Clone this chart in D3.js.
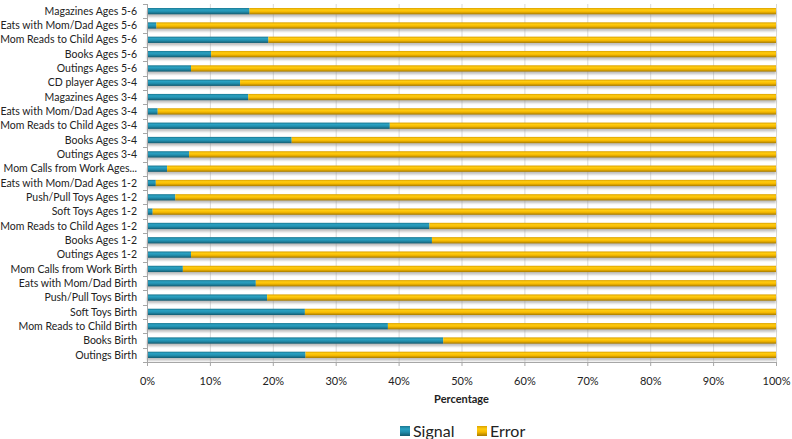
<!DOCTYPE html>
<html>
<head>
<meta charset="utf-8">
<script src="https://cdn.jsdelivr.net/npm/d3@7"></script>
<style>
  html, body { margin: 0; padding: 0; background: #fff; }
  svg text { font-family: Lato, "Noto Sans", sans-serif; fill: #222; }
</style>
</head>
<body>
<svg id="chart" width="792" height="439"></svg>
<script>
// Categories listed top to bottom
const categories = [
  "Magazines Ages 5-6",
  "Eats with Mom/Dad Ages 5-6",
  "Mom Reads to Child Ages 5-6",
  "Books Ages 5-6",
  "Outings Ages 5-6",
  "CD player Ages 3-4",
  "Magazines Ages 3-4",
  "Eats with Mom/Dad Ages 3-4",
  "Mom Reads to Child Ages 3-4",
  "Books Ages 3-4",
  "Outings Ages 3-4",
  "Mom Calls from Work Ages 1-2",
  "Eats with Mom/Dad Ages 1-2",
  "Push/Pull Toys Ages 1-2",
  "Soft Toys Ages 1-2",
  "Mom Reads to Child Ages 1-2",
  "Books Ages 1-2",
  "Outings Ages 1-2",
  "Mom Calls from Work Birth",
  "Eats with Mom/Dad Birth",
  "Push/Pull Toys Birth",
  "Soft Toys Birth",
  "Mom Reads to Child Birth",
  "Books Birth",
  "Outings Birth"
];

// Share of variance (percent)
const signal = [16.3, 1.5, 19.3, 10.2, 7.0, 14.8, 16.1, 1.7, 38.6, 23.0, 6.7, 3.2, 1.4, 4.5, 0.9,
                44.9, 45.3, 7.0, 5.7, 17.3, 19.1, 25.1, 38.3, 47.1, 25.2];
const error = signal.map(s => 100 - s);

const seriesNames = ["Signal", "Error"];
const xTicks = [0, 10, 20, 30, 40, 50, 60, 70, 80, 90, 100];
const xTitle = "Percentage";

const svg = d3.select("#chart");
const margin = { left: 147, right: 16, top: 4, bottom: 77 };
const W = 792, H = 439;

const x = d3.scaleLinear().domain([0, 100]).range([margin.left, W - margin.right]);
const y = d3.scaleBand().domain(categories).range([margin.top, H - margin.bottom]).paddingInner(0.56).paddingOuter(0.28);

const rows = categories.map((c, i) => ({ cat: c, Signal: signal[i], Error: error[i] }));
const stack = d3.stack().keys(seriesNames)(rows);

// Gradients for the bar fills
const defs = svg.append("defs");
function grad(id, stops) {
  const g = defs.append("linearGradient").attr("id", id).attr("x1", 0).attr("y1", 0).attr("x2", 0).attr("y2", 1);
  stops.forEach(([o, c]) => g.append("stop").attr("offset", o).attr("stop-color", c));
}
grad("gSignal", [[0, "#1b7891"], [0.3, "#2aa1c2"], [0.6, "#228ead"], [1, "#135a6f"]]);
grad("gError", [[0, "#dba200"], [0.3, "#ffcc10"], [0.6, "#f6b900"], [1, "#a67a00"]]);
const blur = defs.append("filter").attr("id", "shadow").attr("x", "-5%").attr("y", "-50%").attr("width", "110%").attr("height", "250%");
blur.append("feGaussianBlur").attr("stdDeviation", 1.2);

const colors = { Signal: "url(#gSignal)", Error: "url(#gError)" };

// Vertical gridlines
svg.append("g").selectAll("line").data(xTicks.slice(1)).join("line")
  .attr("x1", d => x(d) + 0.5).attr("x2", d => x(d) + 0.5)
  .attr("y1", margin.top).attr("y2", H - margin.bottom)
  .attr("stroke", "#d9d9d9").attr("stroke-width", 1);

// Bar shadows
svg.append("g").selectAll("rect").data(rows).join("rect")
  .attr("x", x(0)).attr("width", x(100) - x(0))
  .attr("y", d => y(d.cat) + 2.5).attr("height", y.bandwidth())
  .attr("fill", "#8a8a8a").attr("opacity", 0.55).attr("filter", "url(#shadow)");

// Stacked bars
svg.append("g").selectAll("g").data(stack).join("g")
  .attr("fill", d => colors[d.key])
  .selectAll("rect").data(d => d).join("rect")
  .attr("x", d => x(d[0]))
  .attr("width", d => x(d[1]) - x(d[0]))
  .attr("y", d => y(d.data.cat))
  .attr("height", y.bandwidth());

// Y axis with ticks at category boundaries
const yAxisG = svg.append("g");
yAxisG.append("line").attr("x1", x(0) + 0.5).attr("x2", x(0) + 0.5)
  .attr("y1", margin.top).attr("y2", H - margin.bottom).attr("stroke", "#a6a6a6");
const bounds = categories.map(c => y(c) - y.step() * y.paddingInner() / 2).concat([H - margin.bottom]);
yAxisG.selectAll("line.tk").data(bounds).join("line").attr("class", "tk")
  .attr("x1", x(0) - 4).attr("x2", x(0))
  .attr("y1", d => Math.round(d) + 0.5).attr("y2", d => Math.round(d) + 0.5)
  .attr("stroke", "#a6a6a6");

function shorten(t) { return t.length > 26 && t.startsWith("Mom Calls from Work Ages") ? "Mom Calls from Work Ages..." : t; }
yAxisG.selectAll("text").data(categories).join("text")
  .attr("x", x(0) - 10)
  .attr("y", d => y(d) + y.bandwidth() / 2)
  .attr("dy", "0.35em")
  .attr("text-anchor", "end")
  .attr("font-size", 10.5)
  .text(d => shorten(d));

// X axis
const xAxis = d3.axisBottom(x).tickValues(xTicks).tickFormat(d => d + "%").tickSize(4).tickPadding(11);
const xg = svg.append("g").attr("transform", `translate(0,${H - margin.bottom})`).call(xAxis);
xg.select(".domain").attr("stroke", "#a6a6a6");
xg.selectAll(".tick line").attr("stroke", "#a6a6a6");
xg.selectAll(".tick text").attr("font-size", 11).attr("font-family", "Lato, sans-serif").attr("fill", "#222");

svg.append("text")
  .attr("x", (x(0) + x(100)) / 2).attr("y", 403)
  .attr("text-anchor", "middle").attr("font-size", 11).attr("font-weight", "bold")
  .text(xTitle);

// Legend
const legendItems = [
  { key: "Signal", x: 400 },
  { key: "Error", x: 477 }
];
const lg = svg.append("g");
lg.selectAll("rect").data(legendItems).join("rect")
  .attr("x", d => d.x).attr("y", 426).attr("width", 10).attr("height", 10)
  .attr("fill", d => colors[d.key]);
lg.selectAll("text").data(legendItems).join("text")
  .attr("x", d => d.x + 13).attr("y", 437)
  .attr("font-size", 16)
  .text(d => d.key);
</script>
</body>
</html>
